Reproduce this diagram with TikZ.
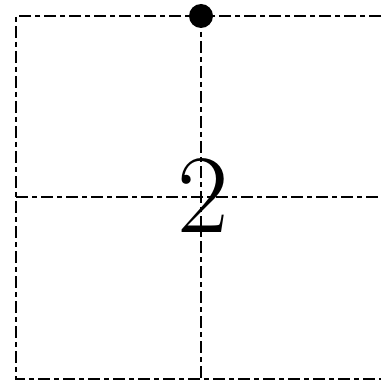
\documentclass[tikz,border=0pt]{standalone}
\begin{document}
\begin{tikzpicture}[x=1pt,y=-1pt,
  gridline/.style={line width=2pt,dash pattern=on 12pt off 4pt on 5pt off 4pt},
  bigdigit/.style={font=\fontsize{112}{112}\selectfont,inner sep=0pt}]
\useasboundingbox (0,0) rectangle (381,382);
\coordinate (tl) at (16,16);
\coordinate (tr) at (381,16);
\coordinate (bl) at (16,379);
\coordinate (br) at (381,379);
\coordinate (tm) at (201,16);
\coordinate (bm) at (201,379);
\coordinate (ml) at (16,197);
\coordinate (mr) at (381,197);
\draw[gridline] (tr) -- (tl) -- (bl) -- (br);
\draw[gridline] (tm) -- (bm);
\draw[gridline] (ml) -- (mr);
\fill (tm) circle (12);
\node[bigdigit] (two) at (203,195) {2};
\end{tikzpicture}
\end{document}
